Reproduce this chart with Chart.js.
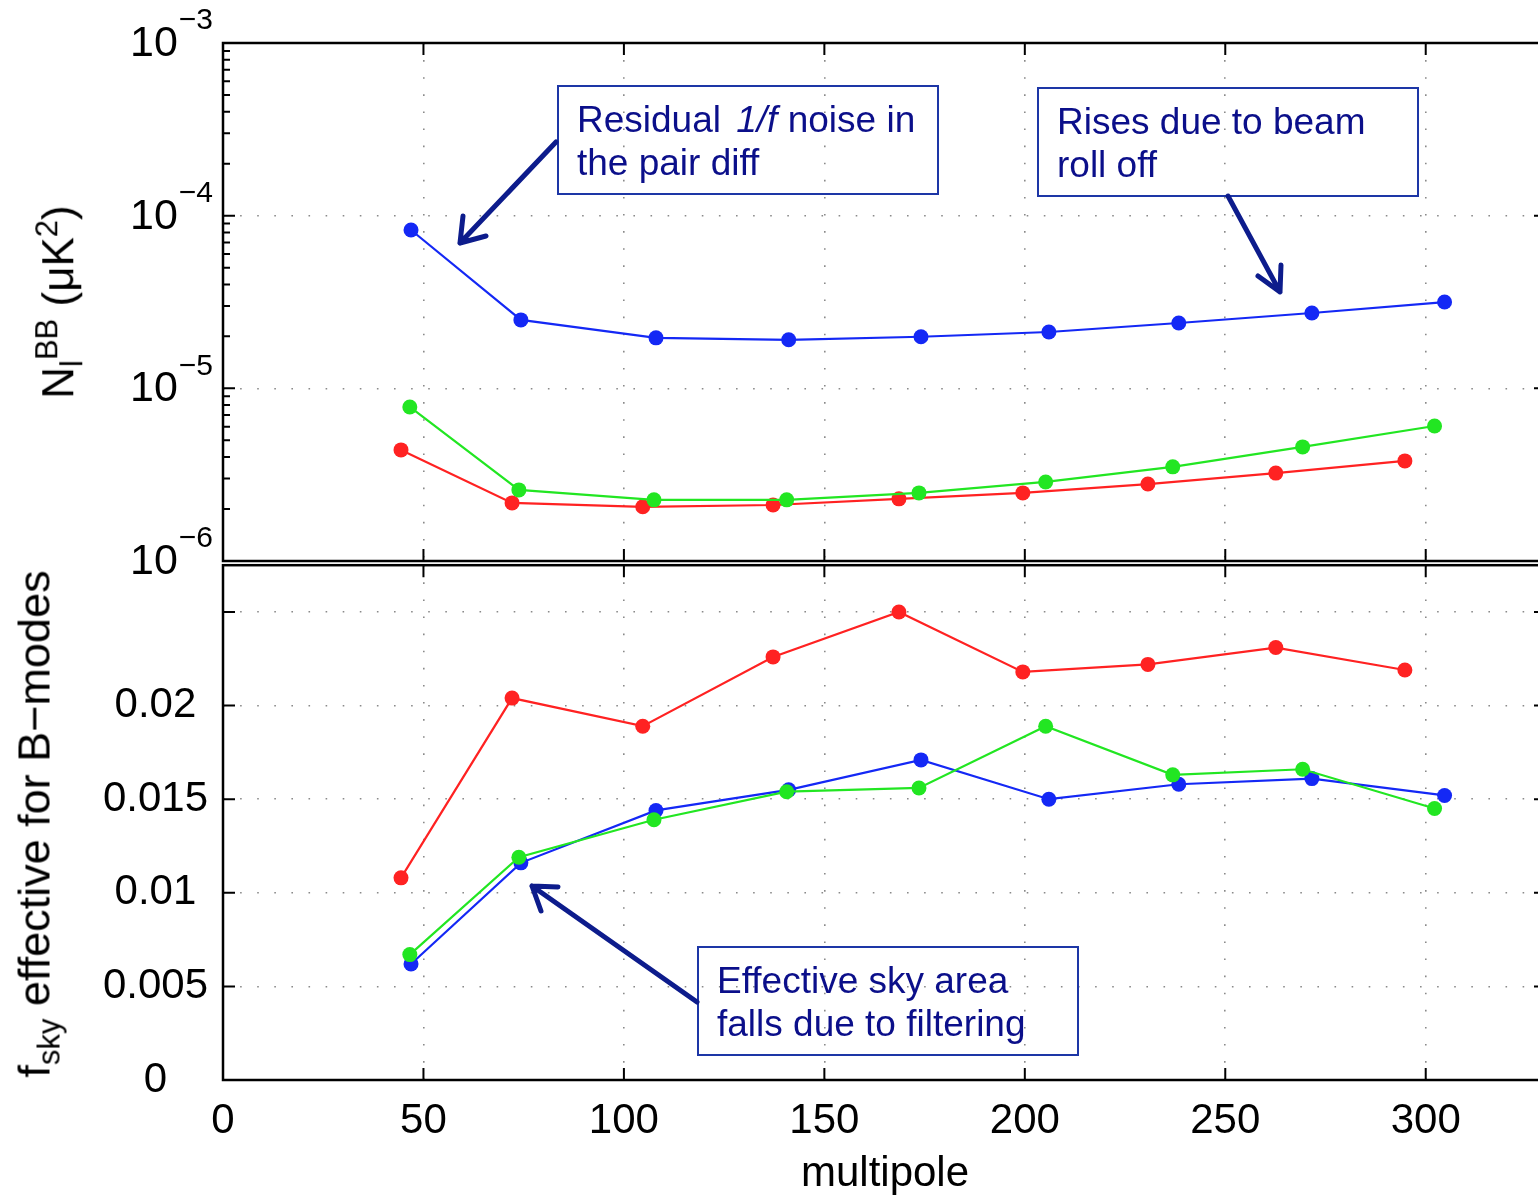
<!DOCTYPE html>
<html lang="en">
<head>
<meta charset="UTF-8">
<title>Noise and effective sky fraction vs multipole</title>
<script src="https://cdn.jsdelivr.net/npm/chart.js"></script>
<style>
  html, body { margin: 0; padding: 0; background: #fff; overflow: hidden; }
  #wrap { position: relative; width: 1538px; height: 1196px; overflow: hidden;
          font-family: 'Liberation Sans', Arial, Helvetica, sans-serif; }
  canvas { position: absolute; left: 0; }
  #topChart { top: 0; }
  #bottomChart { top: 525px; }
  .note { position: absolute; box-sizing: border-box; width: 382px; height: 110px;
          border: 2px solid #1d36a6; color: #0b0f8a; font-size: 37px; line-height: 43px;
          padding: 11px 0 0 18px; white-space: nowrap; }
  .note i { margin-left: 5px; }
  .axlab { position: absolute; font-size: 44px; white-space: nowrap; color: #000;
           transform: translate(-50%, -50%) rotate(-90deg); }
  .axlab sub, .axlab sup { font-size: 31px; }
  #xlab { position: absolute; left: 885px; top: 1172px; transform: translate(-50%, -50%);
          font-size: 42px; color: #000; }
  svg { position: absolute; left: 0; top: 0; pointer-events: none; }
</style>
</head>
<body>
<div id="wrap">
  <canvas id="topChart" width="1560" height="600"></canvas>
  <canvas id="bottomChart" width="1560" height="671"></canvas>

  <div class="axlab" style="left:60px; top:302px;">N<sub>l</sub><sup>BB</sup> (μK<sup>2</sup>)</div>
  <div class="axlab" style="left:38px; top:824px; font-size:45px;">f<sub>sky</sub> effective for B−modes</div>
  <div id="xlab">multipole</div>

  <div class="note" style="left:557px; top:85px;">Residual <i>1/f</i> noise in<br>the pair diff</div>
  <div class="note" style="left:1037px; top:87px;">Rises due to beam<br>roll off</div>
  <div class="note" style="left:697px; top:946px;">Effective sky area<br>falls due to filtering</div>

  <svg width="1538" height="1196">
    <g stroke="#0d1c8c" stroke-width="5" fill="none" stroke-linecap="round" stroke-linejoin="round">
      <path d="M556 142 L460 243 M463 216 L460 243 L486 236"/>
      <path d="M1228 196 L1280 292 M1281 265 L1280 292 L1258 276"/>
      <path d="M697 1002 L532 886 M541 911 L532 886 L558 887"/>
    </g>
  </svg>
</div>

<script>
// multipole positions of each curve
const ellRed   = [44.4, 72.1, 104.7, 137.2, 168.6, 199.5, 230.7, 262.6, 294.8];
const ellGreen = [46.6, 73.8, 107.5, 140.6, 173.6, 205.2, 236.9, 269.3, 302.2];
const ellBlue  = [46.9, 74.3, 108.0, 141.1, 174.1, 206.0, 238.4, 271.6, 304.7];

// N_l^BB (uK^2)
const noiseRed   = [4.40e-6, 2.17e-6, 2.06e-6, 2.11e-6, 2.29e-6, 2.48e-6, 2.79e-6, 3.23e-6, 3.80e-6];
const noiseGreen = [7.80e-6, 2.58e-6, 2.26e-6, 2.26e-6, 2.48e-6, 2.87e-6, 3.51e-6, 4.58e-6, 6.05e-6];
const noiseBlue  = [8.26e-5, 2.49e-5, 1.96e-5, 1.91e-5, 1.99e-5, 2.12e-5, 2.39e-5, 2.73e-5, 3.16e-5];

// f_sky effective for B-modes
const fskyRed   = [0.0108, 0.0204, 0.0189, 0.0226, 0.0250, 0.0218, 0.0222, 0.0231, 0.0219];
const fskyGreen = [0.0067, 0.0119, 0.0139, 0.0154, 0.0156, 0.0189, 0.0163, 0.0166, 0.0145];
const fskyBlue  = [0.0062, 0.0116, 0.0144, 0.0155, 0.0171, 0.0150, 0.0158, 0.0161, 0.0152];

// axes
const xTicks = [0, 50, 100, 150, 200, 250, 300];
const noiseDecades = [1e-6, 1e-5, 1e-4, 1e-3];
const fskyTicks = [0, 0.005, 0.01, 0.015, 0.02, 0.025];
const fskyLabelled = [0, 0.005, 0.01, 0.015, 0.02];

const RED = '#ff2222', GREEN = '#22e622', BLUE = '#1428f5';
const FONT = "'Liberation Sans', Arial, Helvetica, sans-serif";

function pts(xs, ys) {
    return xs.map(function (x, i) { return { x: x, y: ys[i] }; });
}

function series(xs, ys, color) {
    return {
        data: pts(xs, ys),
        borderColor: color,
        backgroundColor: color,
        borderWidth: 2.2,
        pointRadius: 7.5,
        pointBorderWidth: 0,
        pointHoverRadius: 7.5,
        tension: 0
    };
}

// box round the plot with inward tick marks (matlab style)
const framePlugin = {
    id: 'frame',
    afterDraw(chart) {
        const ctx = chart.ctx, a = chart.chartArea, sx = chart.scales.x, sy = chart.scales.y;
        ctx.save();
        ctx.strokeStyle = '#000';
        ctx.lineWidth = 2;
        ctx.beginPath();
        xTicks.forEach(function (v) {
            const p = sx.getPixelForValue(v);
            ctx.moveTo(p, a.bottom); ctx.lineTo(p, a.bottom - 12);
            ctx.moveTo(p, a.top); ctx.lineTo(p, a.top + 12);
        });
        function yTick(v, len) {
            const p = sy.getPixelForValue(v);
            ctx.moveTo(a.left, p); ctx.lineTo(a.left + len, p);
            ctx.moveTo(a.right, p); ctx.lineTo(a.right - len, p);
        }
        if (sy.type === 'logarithmic') {
            noiseDecades.forEach(function (d) { yTick(d, 12); });
            noiseDecades.slice(0, -1).forEach(function (d) {
                for (let m = 2; m < 10; m++) yTick(m * d, 7);
            });
        } else {
            fskyTicks.forEach(function (v) { yTick(v, 12); });
        }
        ctx.stroke();
        ctx.lineWidth = 2.5;
        ctx.strokeRect(a.left, a.top, a.right - a.left, a.bottom - a.top);
        ctx.restore();
    }
};

// 10^n labels for the log axis
const powerLabels = {
    id: 'powerLabels',
    afterDraw(chart) {
        const ctx = chart.ctx, sy = chart.scales.y;
        ctx.save();
        ctx.fillStyle = '#000';
        ctx.textBaseline = 'middle';
        ctx.textAlign = 'left';
        noiseDecades.forEach(function (d) {
            const p = sy.getPixelForValue(d);
            ctx.font = '43px ' + FONT;
            ctx.fillText('10', 130, p + 1);
            const w = ctx.measureText('10').width;
            ctx.font = '30px ' + FONT;
            ctx.fillText('−' + Math.round(-Math.log10(d)), 130 + w + 1, p - 22);
        });
        ctx.restore();
    }
};

const gridCommon = { color: '#8a8a8a', lineWidth: 1.6, drawTicks: false };
const dotted = { display: false, dash: [1.6, 15.5] };

new Chart(document.getElementById('topChart'), {
    type: 'line',
    data: { datasets: [series(ellBlue, noiseBlue, BLUE), series(ellGreen, noiseGreen, GREEN), series(ellRed, noiseRed, RED)] },
    options: {
        responsive: false,
        animation: false,
        events: [],
        layout: { autoPadding: false, padding: { left: 0, top: 43, right: 14, bottom: 39 } },
        plugins: { legend: { display: false }, tooltip: { enabled: false } },
        scales: {
            x: {
                type: 'linear', min: 0, max: 330,
                afterBuildTicks: function (s) { s.ticks = xTicks.map(function (v) { return { value: v }; }); },
                ticks: { display: false },
                grid: gridCommon, border: dotted,
                afterFit: function (s) { s.height = 0; }
            },
            y: {
                type: 'logarithmic', min: 1e-6, max: 1e-3,
                afterBuildTicks: function (s) { s.ticks = noiseDecades.map(function (v) { return { value: v }; }); },
                ticks: { display: false },
                grid: gridCommon, border: dotted,
                afterFit: function (s) { s.width = 223; }
            }
        }
    },
    plugins: [framePlugin, powerLabels]
});

new Chart(document.getElementById('bottomChart'), {
    type: 'line',
    data: { datasets: [series(ellRed, fskyRed, RED), series(ellGreen, fskyGreen, GREEN), series(ellBlue, fskyBlue, BLUE)] },
    options: {
        responsive: false,
        animation: false,
        events: [],
        layout: { autoPadding: false, padding: { left: 0, top: 5, right: 14, bottom: 0 } },
        plugins: { legend: { display: false }, tooltip: { enabled: false } },
        scales: {
            x: {
                type: 'linear', min: 0, max: 330,
                afterBuildTicks: function (s) { s.ticks = xTicks.map(function (v) { return { value: v }; }); },
                ticks: { color: '#000', font: { family: FONT, size: 42 }, padding: 16, maxRotation: 0 },
                grid: gridCommon, border: dotted,
                afterFit: function (s) { s.height = 116; }
            },
            y: {
                type: 'linear', min: 0, max: 0.0275,
                afterBuildTicks: function (s) { s.ticks = fskyTicks.map(function (v) { return { value: v }; }); },
                ticks: {
                    color: '#000', font: { family: FONT, size: 42 }, padding: 15, crossAlign: 'center',
                    callback: function (v) { return fskyLabelled.indexOf(v) >= 0 ? String(+v.toFixed(4)) : ''; }
                },
                grid: gridCommon, border: dotted,
                afterFit: function (s) { s.width = 223; }
            }
        }
    },
    plugins: [framePlugin]
});
</script>
</body>
</html>
